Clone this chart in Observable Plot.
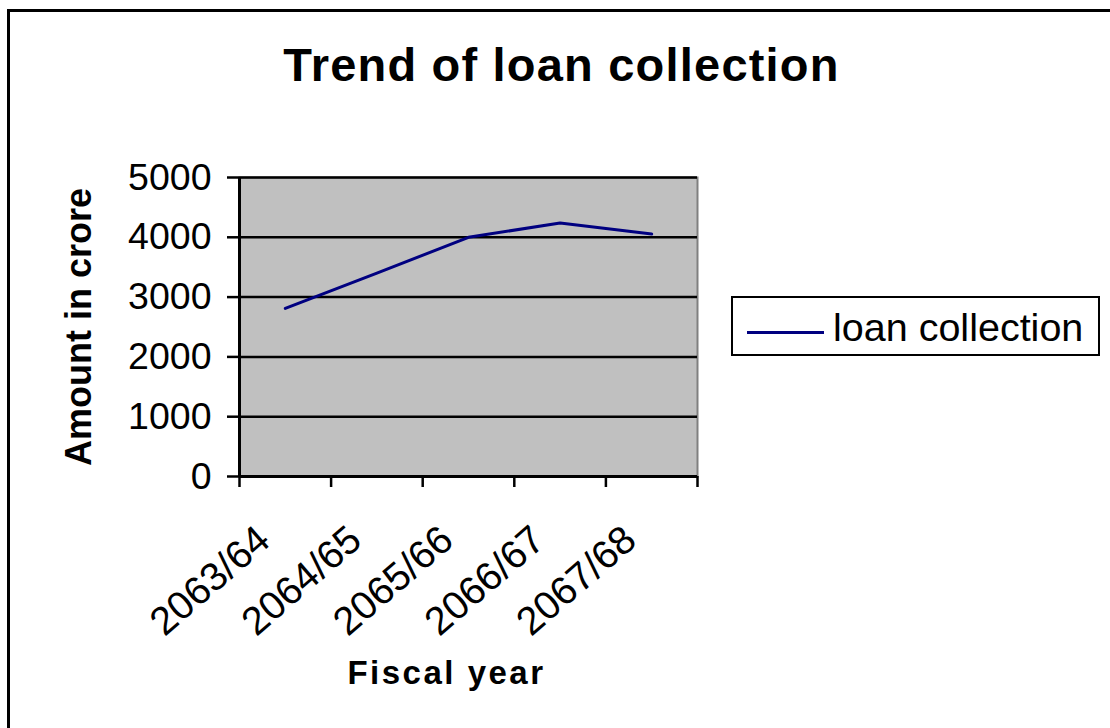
<!DOCTYPE html>
<html>
<head>
<meta charset="utf-8">
<script src="https://cdn.jsdelivr.net/npm/d3@7"></script>
<script src="https://cdn.jsdelivr.net/npm/@observablehq/plot@0.6"></script>
<style>
  html, body { margin: 0; padding: 0; background: #fff; overflow: hidden; }
  #wrap { position: relative; width: 1110px; height: 728px; overflow: hidden; font-family: "Liberation Sans", Arial, sans-serif; }
  #border { position: absolute; left: 7px; top: 9px; width: 1300px; height: 900px; border: 3px solid #000; pointer-events: none; }
  #legend { position: absolute; left: 731px; top: 296px; width: 369px; height: 60px; box-sizing: border-box; border: 2px solid #000; background: #fff; }
  #legend .swatch { position: absolute; left: 14px; top: 33px; width: 77px; height: 3px; background: #000080; }
  #legend .label { position: absolute; left: 100px; top: 7px; font-size: 39.5px; line-height: 44px; color: #000; white-space: nowrap; }
</style>
</head>
<body>
<div id="wrap">
  <div id="chart"></div>
  <div id="border"></div>
</div>
<script>
// ---- data ----
const categories = ["2063/64", "2064/65", "2065/66", "2066/67", "2067/68"];
const loanCollection = [2810, 3400, 4000, 4240, 4055];
const yTicks = [0, 1000, 2000, 3000, 4000, 5000];
const seriesName = "loan collection";
const titleText = "Trend of loan collection";
const xTitle = "Fiscal year";
const yTitle = "Amount in crore";

const data = categories.map((c, i) => ({cat: c, pos: i + 0.5, value: loanCollection[i]}));
const boundaries = d3.range(0, categories.length + 1);

const font = "Liberation Sans, Arial, sans-serif";

const chart = Plot.plot({
  width: 1110,
  height: 728,
  marginLeft: 239,
  marginRight: 413,
  marginTop: 177,
  marginBottom: 252,
  style: {fontFamily: font, background: "transparent", color: "#000"},
  x: {type: "linear", domain: [0, categories.length], axis: null},
  y: {domain: [0, 5000], axis: null},
  marks: [
    Plot.frame({fill: "#c0c0c0", stroke: "#808080", strokeWidth: 2}),
    Plot.gridY(yTicks, {stroke: "#000", strokeOpacity: 1, strokeWidth: 2.5}),
    Plot.ruleX([0], {stroke: "#000", strokeWidth: 3}),
    Plot.ruleY([0], {stroke: "#000", strokeWidth: 3}),
    Plot.axisY({ticks: yTicks, tickSize: 12, tickPadding: 16, fontSize: 37.5, strokeWidth: 2.5,
      tickFormat: d => String(d), label: null}),
    Plot.axisX({ticks: boundaries, tickSize: 11, strokeWidth: 2.5, tickFormat: () => "", label: null}),
    Plot.text(data, {x: "pos", text: "cat", frameAnchor: "bottom", rotate: -41,
      textAnchor: "end", lineAnchor: "bottom", dx: -13, dy: 67, fontSize: 39.5, fill: "#000"}),
    Plot.line(data, {x: "pos", y: "value", stroke: "#000080", strokeWidth: 3}),
    Plot.text([titleText], {frameAnchor: "top", text: d => d, dx: 93, dy: -97, lineAnchor: "bottom",
      textAnchor: "middle", fontSize: 47, fontWeight: "bold", fill: "#000"}),
    Plot.text([xTitle], {frameAnchor: "bottom", text: d => d, dx: -22, dy: 207, lineAnchor: "bottom",
      textAnchor: "middle", fontSize: 33, fontWeight: "bold", fill: "#000"}),
    Plot.text([yTitle], {frameAnchor: "left", text: d => d, dx: -149, rotate: -90, lineAnchor: "bottom",
      textAnchor: "middle", fontSize: 36, fontWeight: "bold", fill: "#000"})
  ]
});

d3.select(chart).selectAll("text").each(function() {
  const t = this.textContent;
  if (t === titleText) this.style.letterSpacing = "1.2px";
  if (t === xTitle) this.style.letterSpacing = "2.5px";
});

document.getElementById("chart").appendChild(chart);

// legend
const legend = document.createElement("div");
legend.id = "legend";
legend.innerHTML = '<div class="swatch"></div><div class="label"></div>';
legend.querySelector(".label").textContent = seriesName;
document.getElementById("wrap").appendChild(legend);
</script>
</body>
</html>
